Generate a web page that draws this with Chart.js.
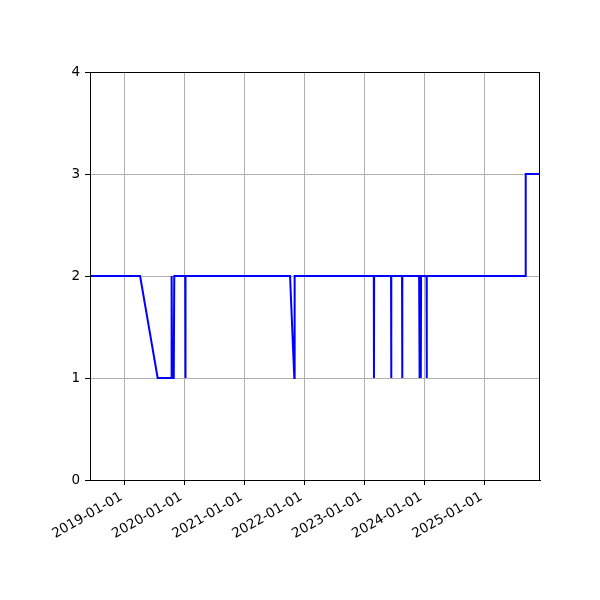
<!DOCTYPE html>
<html>
<head>
<meta charset="utf-8">
<script src="https://cdn.jsdelivr.net/npm/chart.js@4"></script>
<style>
html,body{margin:0;padding:0;background:#fff;}
#wrap{width:600px;height:600px;}
</style>
</head>
<body>
<div id="wrap"><canvas id="c" width="600" height="600"></canvas></div>
<script>
const dates = [
  "2018-06-06","2019-04-07","2019-07-23","2019-10-14","2019-10-16","2019-10-19",
  "2019-10-29","2019-11-01","2020-01-07","2020-01-08","2020-01-09",
  "2021-10-06","2021-11-01","2021-11-03",
  "2023-02-28","2023-03-01","2023-03-02",
  "2023-06-13","2023-06-14","2023-06-15",
  "2023-08-19","2023-08-20","2023-08-21",
  "2023-12-01","2023-12-02","2023-12-04","2023-12-06","2023-12-08","2023-12-10","2023-12-12","2023-12-13",
  "2024-01-15","2024-01-16","2024-01-17",
  "2025-09-09","2025-09-10","2025-12-06"
];
const values = [
  2,2,1,1,2,1,
  1,2,2,1,2,
  2,1,2,
  2,1,2,
  2,1,2,
  2,1,2,
  2,1,2,1,2,1,1,2,
  2,1,2,
  2,3,3
];
const tickYears = ["2019-01-01","2020-01-01","2021-01-01","2022-01-01","2023-01-01","2024-01-01","2025-01-01"];
const yTicks = [0,1,2,3,4];

const t = s => Date.parse(s + "T00:00:00Z");
const points = dates.map((d,i)=>({x:t(d), y:values[i]}));
const tickVals = tickYears.map(t);

const frame = {
  id:'frame',
  afterDraw(chart){
    const {ctx, chartArea:a} = chart;
    ctx.save();
    ctx.strokeStyle = '#000';
    ctx.lineWidth = 1;
    ctx.strokeRect(a.left+0.5, a.top+0.5, a.right-a.left-1, a.bottom-a.top);
    ctx.restore();
  }
};

const font = {family:'"DejaVu Sans", sans-serif', size:13.5};

new Chart(document.getElementById('c'), {
  type:'line',
  data:{datasets:[{data:points, borderColor:'#0000ff', borderWidth:2, pointRadius:0, fill:false, tension:0}]},
  options:{
    responsive:false, animation:false, devicePixelRatio:1,
    layout:{padding:{left:0,right:60,top:72,bottom:0}},
    plugins:{legend:{display:false}, tooltip:{enabled:false}},
    scales:{
      x:{
        type:'linear',
        min:points[0].x, max:points[points.length-1].x,
        afterBuildTicks(scale){ scale.ticks = tickVals.map(v=>({value:v})); },
        afterFit(scale){ scale.height = 120; },
        ticks:{
          autoSkip:false, maxRotation:30, minRotation:30, color:'#000', font, padding:4, labelOffset:-3,
          callback:(v)=>{ const i = tickVals.indexOf(v); return i>=0 ? tickYears[i] : ''; }
        },
        grid:{color:'#b0b0b0', lineWidth:1, tickColor:'#000', tickLength:5, drawTicks:true},
        border:{color:'#000', width:1}
      },
      y:{
        min:yTicks[0], max:yTicks[yTicks.length-1],
        afterBuildTicks(scale){ scale.ticks = yTicks.map(v=>({value:v})); },
        afterFit(scale){ scale.width = 90; },
        ticks:{color:'#000', font, padding:5},
        grid:{color:'#b0b0b0', lineWidth:1, tickColor:'#000', tickLength:5},
        border:{color:'#000', width:1}
      }
    }
  },
  plugins:[frame]
});
</script>
</body>
</html>
